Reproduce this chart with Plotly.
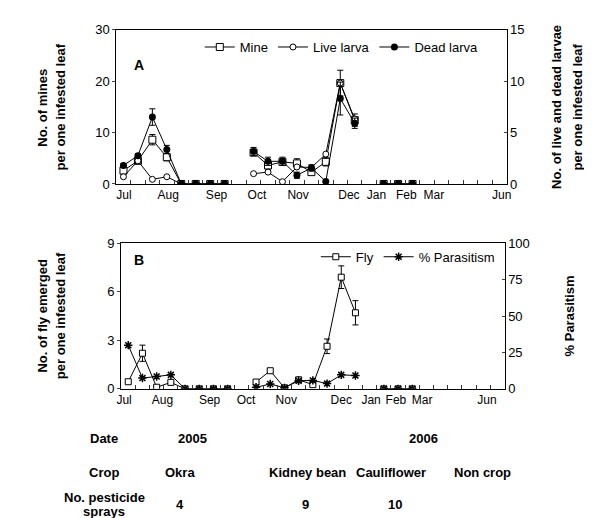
import plotly.graph_objects as go

# ---------------- data ----------------
idx = list(range(21))
# Panel A (left axis: mines; right axis: larvae)
mine = [2.6, 4.5, 8.6, 5.2, 0, 0, 0, 0, None, 6.1, 3.6, 4.3, 4.0, 2.3, 4.3, 19.6, 12.4, None, 0, 0, 0]
mine_err = [0.7, 0.6, 1.0, 0.7, 0, 0, 0, 0, 0, 0.6, 0.7, 0.6, 0.9, 0.5, 0.8, 2.5, 1.2, 0, 0, 0, 0]
live = [0.7, 2.25, 0.45, 0.7, 0, 0, 0, 0, None, 1.0, 1.15, 0.22, 1.65, 1.6, 2.9, 9.8, 6.3, None, 0, 0, 0]
dead = [1.8, 2.75, 6.5, 3.35, 0, 0, 0, 0, None, 3.15, 2.2, 2.2, 0.85, 1.55, 0.25, 8.3, 5.9, None, 0, 0, 0]
dead_err = [0.2, 0.2, 0.8, 0.4, 0, 0, 0, 0, 0, 0.4, 0.4, 0.4, 0.3, 0.3, 0.1, 1.6, 0.5, 0, 0, 0, 0]
# Panel B
fly = [0.44, 2.2, 0.1, 0.4, 0, 0, 0, 0, None, 0.42, 1.12, 0.06, 0.56, 0.26, 2.63, 6.9, 4.7, None, 0, 0, 0]
fly_err = [0.05, 0.5, 0.04, 0.08, 0, 0, 0, 0, 0, 0.08, 0.12, 0.03, 0.06, 0.05, 0.45, 0.7, 0.75, 0, 0, 0, 0]
parasitism = [30, 7.4, 8.5, 9.6, 0, 0, 0, 0, None, 1.1, 3.3, 0.7, 5.6, 5.8, 3.6, 9.6, 9.2, None, 0, 0, 0]

months = ["Jul", "Aug", "Sep", "Oct", "Nov", "Dec", "Jan", "Feb", "Mar", "Jun"]
month_pos_a = [0.04, 3.1, 6.44, 9.23, 12.08, 15.6, 17.5, 19.57, 21.47, 26.17]
month_pos_b = [-0.29, 2.41, 5.73, 8.3, 11.13, 15.0, 17.1, 18.85, 20.7, 25.26]
boundaries = [i + 0.5 for i in range(-1, 27)]

table_rows = ["Date", "Crop", "No. pesticide", "sprays"]
years = ["2005", "2006"]
crops = ["Okra", "Kidney bean", "Cauliflower", "Non crop"]
sprays = ["4", "9", "10"]

# ---------------- figure ----------------
W, H = 592, 518
FONT = "Liberation Sans, Arial, sans-serif"
BOLD = dict(family=FONT, size=13, color="black", weight="bold")


def px(x):
    return x / W


def py(y):
    return 1 - y / H


fig = go.Figure()
line = dict(color="black", width=1)
eb = lambda arr: dict(type="data", array=arr, color="black", thickness=1, width=3, visible=True)
open_mk = lambda sym, size: dict(symbol=sym, size=size, color="white", line=dict(width=1, color="black"))

fig.add_trace(go.Scatter(x=idx, y=mine, name="Mine", mode="lines+markers", line=line,
                         marker=open_mk("square", 7),
                         error_y=eb(mine_err), xaxis="x", yaxis="y", legend="legend"))
fig.add_trace(go.Scatter(x=idx, y=live, name="Live larva", mode="lines+markers", line=line,
                         marker=open_mk("circle", 6),
                         xaxis="x", yaxis="y2", legend="legend"))
fig.add_trace(go.Scatter(x=idx, y=dead, name="Dead larva", mode="lines+markers", line=line,
                         marker=dict(symbol="circle", size=7, color="black"),
                         error_y=eb(dead_err), xaxis="x", yaxis="y2", legend="legend"))

fig.add_trace(go.Scatter(x=idx, y=fly, name="Fly", mode="lines+markers", line=line,
                         marker=open_mk("square", 6),
                         error_y=eb(fly_err), xaxis="x2", yaxis="y3", legend="legend2"))
fig.add_trace(go.Scatter(x=idx, y=parasitism, name="% Parasitism", mode="lines+markers", line=line,
                         marker=dict(symbol="asterisk-open", size=7, color="black", line=dict(width=1.5, color="black")),
                         xaxis="x2", yaxis="y4", legend="legend2"))

axis_common = dict(showline=True, linecolor="black", linewidth=1, showgrid=False, zeroline=False,
                   tickfont=dict(family=FONT, size=13, color="black"))

xa = dict(axis_common, range=[-0.5, 26.5], mirror=True, ticks="inside", ticklen=1,
          tickcolor="rgba(0,0,0,0)", tickangle=0, tickfont=dict(family=FONT, size=12, color="black"),
          minor=dict(tickvals=boundaries, ticks="inside", ticklen=4, tickcolor="#333", tickwidth=1))
fig.update_layout(
    xaxis=dict(xa, domain=[px(105), px(502)], anchor="y", tickvals=month_pos_a, ticktext=months),
    xaxis2=dict(xa, domain=[px(110), px(500)], anchor="y3", tickvals=month_pos_b, ticktext=months),
    yaxis=dict(axis_common, domain=[py(174), py(15)], range=[0, 30], dtick=10, ticks="outside", ticklen=3,
               anchor="x", mirror=False),
    yaxis2=dict(axis_common, overlaying="y", side="right", range=[0, 15], dtick=5, ticks="inside", ticklen=3,
                anchor="x"),
    yaxis3=dict(axis_common, domain=[py(385), py(235)], range=[0, 9], dtick=3, ticks="outside", ticklen=3,
                anchor="x2"),
    yaxis4=dict(axis_common, overlaying="y3", side="right", range=[0, 100], dtick=25, ticks="inside", ticklen=3,
                anchor="x2"),
)

legend_common = dict(orientation="h", bgcolor="rgba(0,0,0,0)", font=dict(family=FONT, size=13, color="black"),
                     xanchor="left", yanchor="middle", itemwidth=30, tracegroupgap=0)
fig.update_layout(
    legend=dict(legend_common, x=px(190), y=py(33)),
    legend2=dict(legend_common, x=px(308), y=py(249)),
    width=W, height=H, margin=dict(l=0, r=0, t=0, b=0),
    paper_bgcolor="white", plot_bgcolor="white", showlegend=True,
)

ann = []
def text(x, y, s, angle=0, size=13):
    f = dict(BOLD)
    f["size"] = size
    ann.append(dict(x=px(x), y=py(y), xref="paper", yref="paper", text=s, showarrow=False,
                    textangle=angle, font=f, xanchor="center", yanchor="middle"))

text(128, 52, "A", size=14)
text(128, 252, "B", size=14)
# axis titles
text(30, 95, "No. of mines", angle=-90)
text(48, 95, "per one infested leaf", angle=-90)
text(553, 95, "No. of live and dead larvae", angle=-90)
text(574, 95, "per one infested leaf", angle=-90)
text(30, 310, "No. of fly emerged", angle=-90)
text(48, 310, "per one infested leaf", angle=-90)
text(566, 310, "% Parasitism", angle=-90)
# table
text(93, 436, table_rows[0])
text(93, 471, table_rows[1])
text(93, 497, table_rows[2])
text(93, 511, table_rows[3])
for s, x in zip(years, [183, 418]):
    text(x, 436, s)
for s, x in zip(crops, [170, 300, 385, 478]):
    text(x, 471, s)
for s, x in zip(sprays, [170, 298, 389]):
    text(x, 504, s)
fig.update_layout(annotations=ann)

fig.write_html("out.html")
